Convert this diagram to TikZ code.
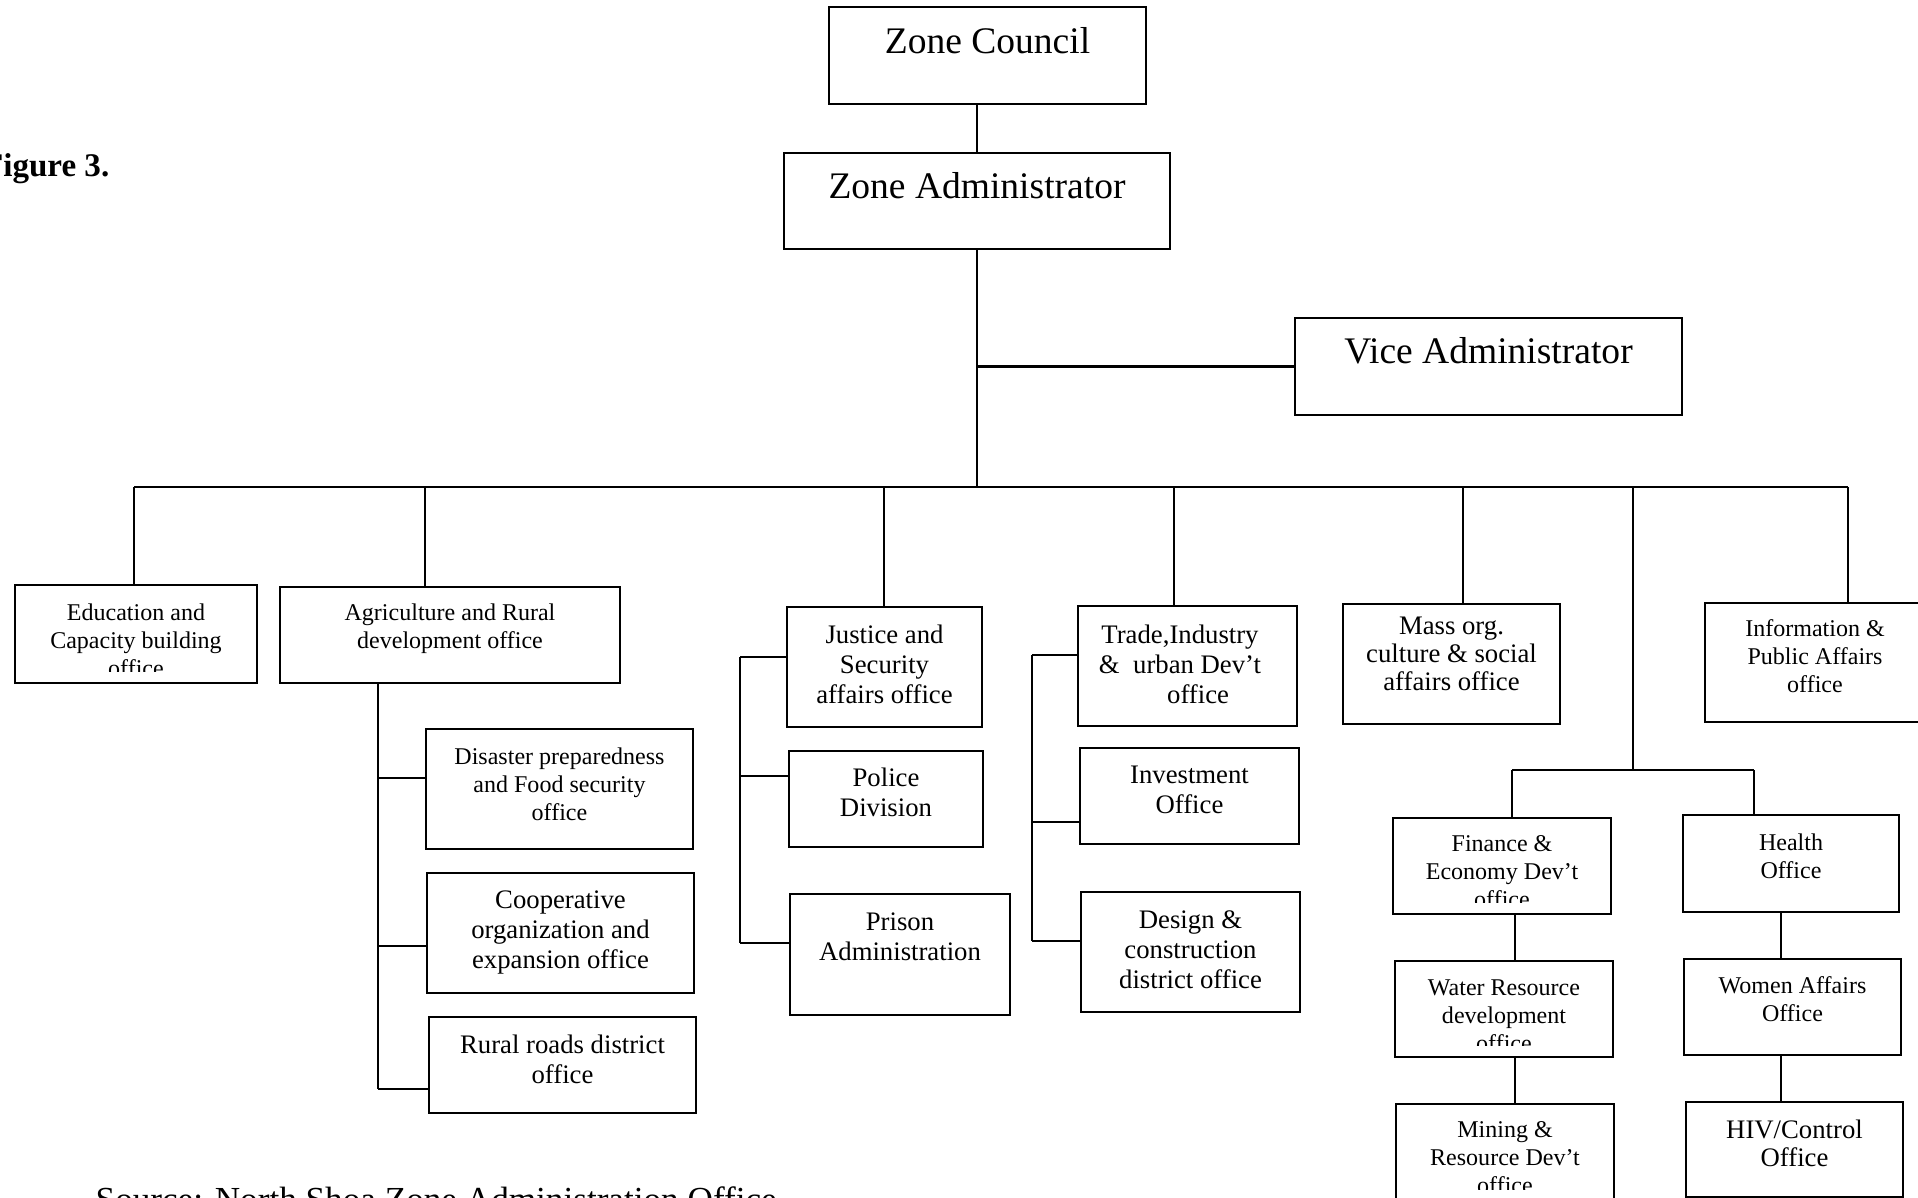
\documentclass[tikz,border=0pt]{standalone}
\usepackage{fontspec}
\setmainfont{Liberation Serif}
\usetikzlibrary{fit}
\begin{document}
\begin{tikzpicture}[x=0.01cm,y=-0.01cm,
  box/.style={draw, line width=0.75pt, inner sep=0pt, outer sep=0pt},
  conn/.style={line width=0.6pt},
  big/.style={font=\fontsize{10.67}{12.8}\selectfont, inner sep=0pt, anchor=north},
  sm/.style={font=\fontsize{6.83}{7.97}\selectfont, align=center, inner sep=0pt, anchor=north},
  md/.style={font=\fontsize{7.6}{8.54}\selectfont, align=center, inner sep=0pt, anchor=north},
  mdt/.style={font=\fontsize{7.6}{7.97}\selectfont, align=center, inner sep=0pt, anchor=north}
]
\useasboundingbox (0,0) rectangle (1918,1198);

% ---------- top ----------
\node[box, fit={(829,7) (1146,104)}] (zc) {};
\node[big] (zct) at (987.5,27) {Zone Council};
\node[box, fit={(784,153) (1170,249)}] (za) {};
\node[big] (zat) at (977,172) {Zone Administrator};
\node[box, fit={(1295,318) (1682,415)}] (va) {};
\node[big] (vat) at (1488.5,337) {Vice Administrator};

\draw[conn] (za.north) -- (za.north |- zc.south);
\coordinate (bus) at (977,487);
\draw[conn] (za.south) -- (bus);
\draw[conn] (va.west) -- (va.west -| za.south);

% ---------- second row boxes ----------
\node[box, fit={(15,585) (257,683)}] (edu) {};
\node[box, fit={(280,587) (620,683)}] (agr) {};
\node[box, fit={(787,607) (982,727)}] (jus) {};
\node[box, fit={(1078,606) (1297,726)}] (tra) {};
\node[box, fit={(1343,604) (1560,724)}] (mas) {};
\node[box, fit={(1705,603) (1925,722)}] (inf) {};

% bus and drops
\coordinate (d1) at (134,487);
\coordinate (d2) at (425,487);
\coordinate (d3) at (884,487);
\coordinate (d4) at (1174,487);
\coordinate (d5) at (1463,487);
\coordinate (d6) at (1633,487);
\coordinate (d7) at (1848,487);
\draw[conn] (d1) -- (d7);
\draw[conn] (d1) -- (d1 |- edu.north);
\draw[conn] (d2) -- (d2 |- agr.north);
\draw[conn] (d3) -- (d3 |- jus.north);
\draw[conn] (d4) -- (d4 |- tra.north);
\draw[conn] (d5) -- (d5 |- mas.north);
\draw[conn] (d7) -- (d7 |- inf.north);

% ---------- agriculture subs ----------
\node[box, fit={(426,729) (693,849)}] (dis) {};
\node[box, fit={(427,873) (694,993)}] (coop) {};
\node[box, fit={(429,1017) (696,1113)}] (rur) {};
\coordinate (a1) at (378,778);
\coordinate (a2) at (378,946);
\coordinate (a3) at (378,1089);
\draw[conn] (a3 |- agr.south) -- (a3);
\draw[conn] (a1) -- (a1 -| dis.west);
\draw[conn] (a2) -- (a2 -| coop.west);
\draw[conn] (a3) -- (a3 -| rur.west);

% ---------- justice subs ----------
\node[box, fit={(789,751) (983,847)}] (pol) {};
\node[box, fit={(790,894) (1010,1015)}] (pri) {};
\coordinate (j1) at (740,657);
\coordinate (j2) at (740,776);
\coordinate (j3) at (740,943);
\draw[conn] (j1) -- (j3);
\draw[conn] (j1) -- (j1 -| jus.west);
\draw[conn] (j2) -- (j2 -| pol.west);
\draw[conn] (j3) -- (j3 -| pri.west);

% ---------- trade subs ----------
\node[box, fit={(1080,748) (1299,844)}] (inv) {};
\node[box, fit={(1081,892) (1300,1012)}] (des) {};
\coordinate (t1) at (1032,655);
\coordinate (t2) at (1032,822);
\coordinate (t3) at (1032,941);
\draw[conn] (t1) -- (t3);
\draw[conn] (t1) -- (t1 -| tra.west);
\draw[conn] (t2) -- (t2 -| inv.west);
\draw[conn] (t3) -- (t3 -| des.west);

% ---------- right group ----------
\node[box, fit={(1393,818) (1611,914)}] (fin) {};
\node[box, fit={(1683,815) (1899,912)}] (hea) {};
\node[box, fit={(1395,961) (1613,1057)}] (wat) {};
\node[box, fit={(1684,959) (1901,1055)}] (wom) {};
\node[box, fit={(1396,1104) (1614,1201)}] (min) {};
\node[box, fit={(1686,1102) (1903,1197)}] (hiv) {};
\coordinate (r0) at (1633,770);
\coordinate (rl) at (1512,770);
\coordinate (rr) at (1754,770);
\draw[conn] (d6) -- (r0);
\draw[conn] (rl) -- (rr);
\draw[conn] (rl) -- (rl |- fin.north);
\draw[conn] (rr) -- (rr |- hea.north);
\coordinate (cl) at (1515,0);
\coordinate (cr) at (1781,0);
\draw[conn] (fin.south -| cl) -- (wat.north -| cl);
\draw[conn] (wat.south -| cl) -- (min.north -| cl);
\draw[conn] (hea.south -| cr) -- (wom.north -| cr);
\draw[conn] (wom.south -| cr) -- (hiv.north -| cr);

% ---------- texts ----------
\begin{scope}
\clip (edu.north west) rectangle ([yshift=0.11cm]edu.south east);
\node[sm] (edut) at (136,603) {Education and\\Capacity building\\office};
\end{scope}
\node[sm] (agrt) at (450,603) {Agriculture and Rural\\development office};
\node[sm] (dist) at (559.5,747) {Disaster preparedness\\and Food security\\office};
\node[md] (coopt) at (560.5,890) {Cooperative\\organization and\\expansion office};
\node[md] (rurt) at (562.5,1034) {Rural roads district\\office};
\node[md] (just) at (884.5,624) {Justice and\\Security\\affairs office};
\node[md] (polt) at (886,767) {Police\\Division};
\node[md] (prit) at (900,912) {Prison\\Administration};
\node[md] (trat) at (1180,624) {Trade,Industry\\\&\ \ urban Dev’t\\\hspace*{1.35em}office};
\node[md] (invt) at (1189.5,765) {Investment\\Office};
\node[md] (dest) at (1190.5,910) {Design \&\\construction\\district office};
\node[mdt] (mast) at (1451.5,616) {Mass org.\\culture \& social\\affairs office};
\node[sm] (inft) at (1815,619) {Information \&\\Public Affairs\\office};
\begin{scope}
\clip (fin.north west) rectangle ([yshift=0.11cm]fin.south east);
\node[sm] (fint) at (1502,835) {Finance \&\\Economy Dev’t\\office};
\end{scope}
\node[sm] (heat) at (1791,833) {Health\\Office};
\begin{scope}
\clip (wat.north west) rectangle ([yshift=0.11cm]wat.south east);
\node[sm] (watt) at (1504,979) {Water Resource\\development\\office};
\end{scope}
\node[sm] (womt) at (1792.5,976) {Women Affairs\\Office};
\begin{scope}
\clip (min.north west) rectangle ([yshift=0.11cm]min.south east);
\node[sm] (mint) at (1505,1121) {Mining \&\\Resource Dev’t\\office};
\end{scope}
\node[mdt] (hivt) at (1794.5,1119) {HIV/Control\\Office};

% ---------- captions ----------
\node[font=\bfseries\fontsize{9.4}{11}\selectfont, anchor=base east, inner sep=0pt] (fig) at (110,177) {Figure 3.};
\node[font=\fontsize{10}{12}\selectfont, anchor=base west, inner sep=0pt] (src) at (95,1211) {Source: North Shoa Zone Administration Office};
\end{tikzpicture}
\end{document}
